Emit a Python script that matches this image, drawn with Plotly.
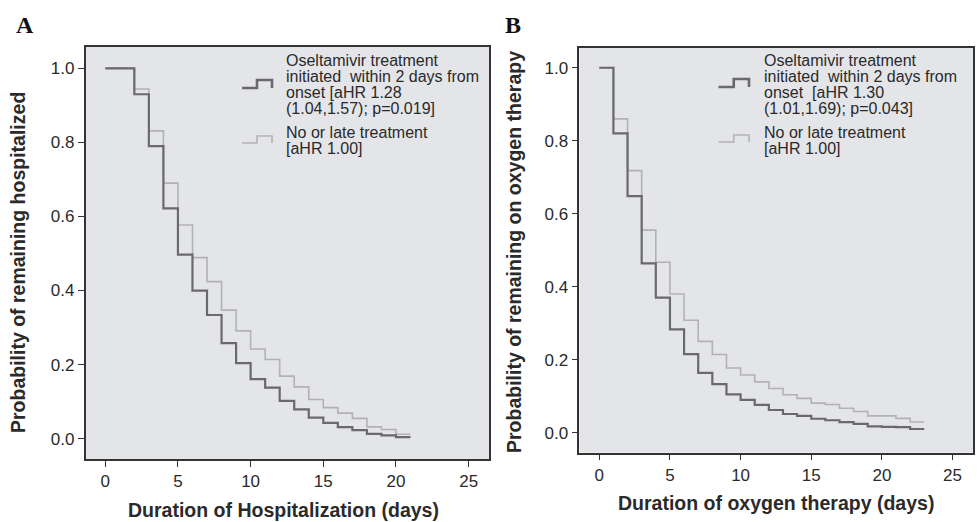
import plotly.graph_objects as go

# ---------------- data ----------------
# Panel A: duration of hospitalization (days), step times and survival
a_days = [0, 2, 3, 4, 5, 6, 7, 8, 9, 10, 11, 12, 13, 14, 15, 16, 17, 18, 19, 20, 21]
a_early = [1.0, 0.930, 0.790, 0.622, 0.497, 0.400, 0.334, 0.258, 0.204, 0.161, 0.138,
           0.102, 0.079, 0.057, 0.043, 0.031, 0.023, 0.013, 0.009, 0.004, 0.004]
a_late = [1.0, 0.944, 0.831, 0.690, 0.577, 0.489, 0.424, 0.347, 0.291, 0.242, 0.214,
          0.169, 0.140, 0.106, 0.084, 0.069, 0.055, 0.032, 0.025, 0.012, 0.012]

# Panel B: duration of oxygen therapy (days)
b_days = [0, 1, 2, 3, 4, 5, 6, 7, 8, 9, 10, 11, 12, 13, 14, 15, 16, 17, 18, 19, 20, 21, 22, 23]
b_early = [1.0, 0.820, 0.648, 0.464, 0.370, 0.283, 0.215, 0.164, 0.133, 0.105, 0.090, 0.076,
           0.062, 0.051, 0.046, 0.038, 0.034, 0.029, 0.024, 0.017, 0.016, 0.015, 0.010, 0.010]
b_late = [1.0, 0.860, 0.718, 0.555, 0.467, 0.380, 0.308, 0.250, 0.214, 0.177, 0.158, 0.139,
          0.121, 0.104, 0.094, 0.081, 0.077, 0.067, 0.058, 0.046, 0.046, 0.039, 0.029, 0.029]

x_ticks = [0, 5, 10, 15, 20, 25]
y_ticks = [0.0, 0.2, 0.4, 0.6, 0.8, 1.0]
y_tick_text = ["0.0", "0.2", "0.4", "0.6", "0.8", "1.0"]

legend_a = ["Oseltamivir treatment", "initiated  within 2 days from", "onset [aHR 1.28",
            "(1.04,1.57); p=0.019]"]
legend_b = ["Oseltamivir treatment", "initiated  within 2 days from", "onset  [aHR 1.30",
            "(1.01,1.69); p=0.043]"]
legend_late = ["No or late treatment", "[aHR 1.00]"]

title_a_x = "Duration of Hospitalization (days)"
title_a_y = "Probability of remaining hospitalized"
title_b_x = "Duration of oxygen therapy (days)"
title_b_y = "Probability of remaining on oxygen therapy"

# ---------------- style ----------------
W, H = 978, 522
DARK = "#6a6a6a"
LIGHT = "#b2b2b2"
BG = "#e4e5e8"
FRAME = "#333333"
FONT = "Arial, 'Liberation Sans', sans-serif"
TXT = "#2a2a2a"

fig = go.Figure()

fig.add_trace(go.Scatter(x=a_days, y=a_late, mode="lines", line=dict(color=LIGHT, width=1.6, shape="hv"),
                         xaxis="x", yaxis="y", showlegend=False, hoverinfo="skip"))
fig.add_trace(go.Scatter(x=a_days, y=a_early, mode="lines", line=dict(color=DARK, width=2.2, shape="hv"),
                         xaxis="x", yaxis="y", showlegend=False, hoverinfo="skip"))
fig.add_trace(go.Scatter(x=b_days, y=b_late, mode="lines", line=dict(color=LIGHT, width=1.6, shape="hv"),
                         xaxis="x2", yaxis="y2", showlegend=False, hoverinfo="skip"))
fig.add_trace(go.Scatter(x=b_days, y=b_early, mode="lines", line=dict(color=DARK, width=2.2, shape="hv"),
                         xaxis="x2", yaxis="y2", showlegend=False, hoverinfo="skip"))


def px(x):
    return x / W


def py(y):
    return 1 - y / H


dom_a_x = [px(85.5), px(489)]
dom_a_y = [py(459.3), py(47)]
dom_b_x = [px(579.3), px(973.3)]
dom_b_y = [py(452.7), py(47.7)]

axis_common = dict(showgrid=False, zeroline=False, showline=True, linecolor=FRAME, linewidth=1.5,
                   mirror=True, ticks="outside", ticklen=6, tickcolor=FRAME, tickwidth=1.2,
                   automargin=False,
                   tickfont=dict(family=FONT, size=17, color=TXT))

fig.update_layout(
    width=W, height=H,
    margin=dict(l=0, r=0, t=0, b=0, autoexpand=False),
    paper_bgcolor="white",
    plot_bgcolor=BG,
    showlegend=False,
    xaxis=dict(domain=dom_a_x, anchor="y", range=[-1.36, 26.4], tickvals=x_ticks, **axis_common),
    yaxis=dict(domain=dom_a_y, anchor="x", range=[-0.0556, 1.0575], tickvals=y_ticks, ticktext=y_tick_text,
               **axis_common),
    xaxis2=dict(domain=dom_b_x, anchor="y2", range=[-1.415, 26.47], tickvals=x_ticks, **axis_common),
    yaxis2=dict(domain=dom_b_y, anchor="x2", range=[-0.055, 1.055], tickvals=y_ticks, ticktext=y_tick_text,
                **axis_common),
)

annotations = []
shapes = []

title_font = dict(family=FONT, size=19.5, color=TXT)

# axis titles
annotations.append(dict(text="<b>%s</b>" % title_a_x, x=px(283.5), y=py(510), xref="paper", yref="paper",
                        xanchor="center", yanchor="middle", showarrow=False, font=title_font))
annotations.append(dict(text="<b>%s</b>" % title_b_x, x=px(776), y=py(503), xref="paper", yref="paper",
                        xanchor="center", yanchor="middle", showarrow=False, font=title_font))
annotations.append(dict(text="<b>%s</b>" % title_a_y, x=px(18), y=py(263), xref="paper", yref="paper",
                        xanchor="center", yanchor="middle", textangle=-90, showarrow=False, font=title_font))
annotations.append(dict(text="<b>%s</b>" % title_b_y, x=px(514), y=py(252), xref="paper", yref="paper",
                        xanchor="center", yanchor="middle", textangle=-90, showarrow=False, font=title_font))

# panel letters
for letter, xpos in (("A", 14), ("B", 503)):
    annotations.append(dict(text="<b>%s</b>" % letter, x=px(xpos), y=py(25), xref="paper", yref="paper",
                            xanchor="left", yanchor="middle", showarrow=False,
                            font=dict(family="'Liberation Serif', 'DejaVu Serif', serif", size=24, color="#111")))


def add_legend(gx0, gx1, text_x, dark_lines, late_lines, dark_y, late_y):
    gm = (gx0 + gx1) / 2
    lo, hi = dark_y + 4, dark_y - 4
    shapes.append(dict(type="path", xref="paper", yref="paper",
                       path="M %f %f L %f %f L %f %f L %f %f L %f %f" % (
                           px(gx0), py(lo), px(gm), py(lo), px(gm), py(hi), px(gx1), py(hi), px(gx1), py(lo)),
                       line=dict(color=DARK, width=2.6)))
    lo2, hi2 = late_y + 3.5, late_y - 3.5
    shapes.append(dict(type="path", xref="paper", yref="paper",
                       path="M %f %f L %f %f L %f %f L %f %f L %f %f" % (
                           px(gx0), py(lo2), px(gm), py(lo2), px(gm), py(hi2), px(gx1), py(hi2), px(gx1), py(lo2)),
                       line=dict(color=LIGHT, width=1.6)))
    for i, t in enumerate(dark_lines):
        annotations.append(dict(text=t, x=px(text_x), y=py(61 + 15.7 * i), xref="paper", yref="paper",
                                xanchor="left", yanchor="middle", showarrow=False,
                                font=dict(family=FONT, size=16, color=TXT)))
    for i, t in enumerate(late_lines):
        annotations.append(dict(text=t, x=px(text_x), y=py(133 + 15.7 * i), xref="paper", yref="paper",
                                xanchor="left", yanchor="middle", showarrow=False,
                                font=dict(family=FONT, size=16, color=TXT)))


add_legend(242, 272, 284, legend_a, legend_late, 84, 139.5)
add_legend(718.5, 749, 762, legend_b, legend_late, 83, 138.5)

fig.update_layout(annotations=annotations, shapes=shapes)

fig.write_html("out.html", config={"displayModeBar": False},
               post_script="document.body.style.margin='0';document.body.style.overflow='hidden';")
